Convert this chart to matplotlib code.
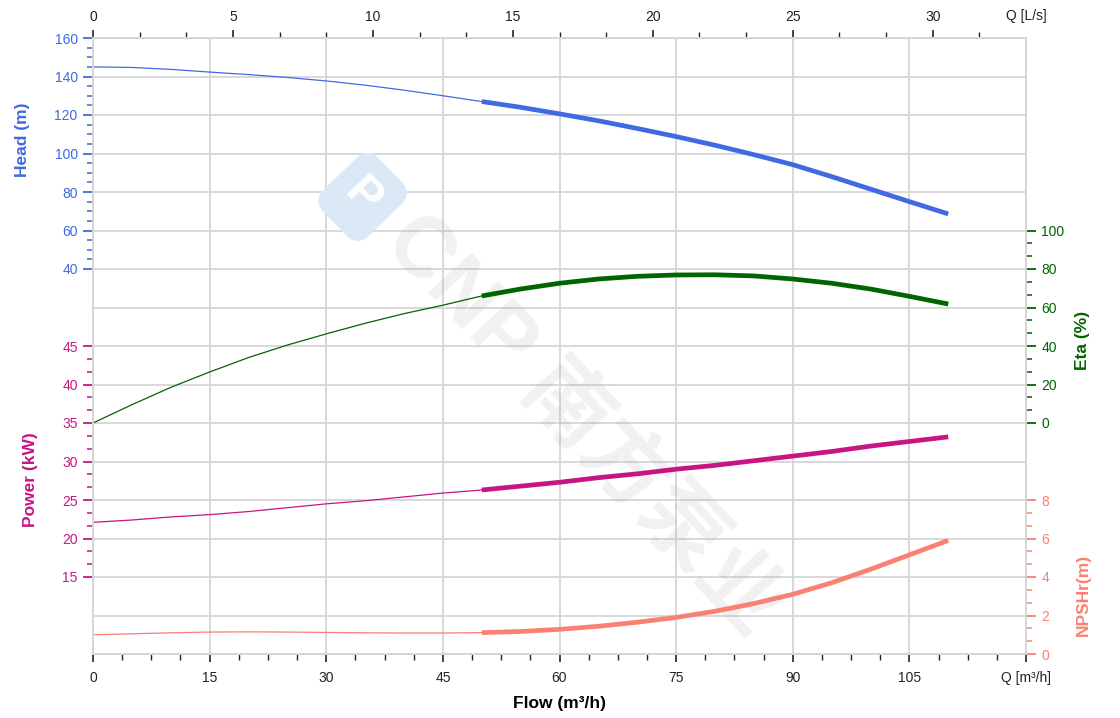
import numpy as np
import matplotlib.pyplot as plt
from matplotlib.ticker import FixedLocator, NullFormatter

plt.rcParams['font.family'] = ['Liberation Sans', 'Noto Sans CJK SC', 'DejaVu Sans']

# pump curve data (flow in m3/h)
flow = [0, 5, 10, 15, 20, 25, 30, 35, 40, 45, 50, 55,
        60, 65, 70, 75, 80, 85, 90, 95, 100, 105, 110]
head = [145.0, 144.7, 143.7, 142.3, 141.0, 139.5, 137.7, 135.5, 132.9, 130.0, 127.0, 124.0,
        120.6, 117.0, 113.0, 108.8, 104.3, 99.4, 94.2, 88.0, 81.5, 75.0, 68.6]
eta = [0.0, 9.5, 18.5, 26.5, 34.0, 40.5, 46.3, 51.8, 56.8, 61.2, 66.0, 69.6,
       72.6, 74.8, 76.2, 76.9, 77.0, 76.4, 74.8, 72.6, 69.6, 65.8, 61.8]
power = [22.1, 22.4, 22.8, 23.1, 23.5, 24.0, 24.5, 24.9, 25.4, 25.9, 26.3, 26.8,
         27.3, 27.9, 28.4, 29.0, 29.5, 30.1, 30.7, 31.3, 32.0, 32.6, 33.2]
npsh = [1.00, 1.05, 1.10, 1.14, 1.15, 1.14, 1.12, 1.10, 1.09, 1.09, 1.11, 1.17,
        1.28, 1.44, 1.65, 1.90, 2.22, 2.62, 3.10, 3.70, 4.40, 5.15, 5.90]
duty_start = 50  # thick line from here on

flow_ticks = [0, 15, 30, 45, 60, 75, 90, 105, 120]
flow_labels = ['0', '15', '30', '45', '60', '75', '90', '105', 'Q [m³/h]']
ls_ticks = [0, 5, 10, 15, 20, 25, 30]
head_ticks = [40, 60, 80, 100, 120, 140, 160]
eta_ticks = [0, 20, 40, 60, 80, 100]
power_ticks = [15, 20, 25, 30, 35, 40, 45]
npsh_ticks = [0, 2, 4, 6, 8]

c_head = '#4169e1'
c_eta = '#006400'
c_power = '#c71585'
c_npsh = '#fa8072'
c_grid = '#d6d6d6'

fig = plt.figure(figsize=(11.2, 7.18), dpi=100)
ax = fig.add_axes([93/1120, 64/718, 933/1120, 616/718])

flow = np.array(flow)
thin = flow <= duty_start
thick = flow >= duty_start

def setup(a, color, lim, ticks, minor, side):
    a.set_ylim(*lim)
    a.set_xlim(0, 120)
    a.yaxis.set_major_locator(FixedLocator(ticks))
    a.yaxis.set_minor_locator(FixedLocator(minor))
    a.yaxis.set_minor_formatter(NullFormatter())
    a.yaxis.set_ticks_position(side)
    a.tick_params(axis='y', which='major', colors=color, length=7, width=1.3,
                  labelsize=10, pad=4)
    a.tick_params(axis='y', which='minor', colors=color, length=4, width=1.1)
    for s in a.spines.values():
        s.set_color(c_grid)
        s.set_linewidth(1.3)

def draw(a, y, color):
    y = np.array(y)
    a.plot(flow[thin], y[thin], color=color, lw=0.9)
    a.plot(flow[thick], y[thick], color=color, lw=3.4, solid_capstyle='butt')

# head axis (main)
setup(ax, c_head, (-160, 160), head_ticks, np.arange(40, 161, 5), 'left')
ax.hlines(np.arange(-160, 161, 20), 0, 120, color=c_grid, lw=1.3, zorder=0)
ax.set_xticks(flow_ticks)
ax.set_xticklabels(flow_labels)
ax.xaxis.set_minor_locator(FixedLocator(np.arange(0, 120.1, 3.75)))
ax.tick_params(axis='x', which='major', length=6, width=1.2, labelsize=10, pad=6,
               colors='#222222')
ax.tick_params(axis='x', which='minor', length=4, width=1.0, colors='#222222')
ax.grid(axis='x', color=c_grid, lw=1.3, zorder=0)
ax.set_axisbelow(True)
ax.set_xlabel('Flow (m³/h)', fontsize=12.5, fontweight='bold', labelpad=8)

top = ax.secondary_xaxis('top', functions=(lambda q: q / 3.6, lambda l: l * 3.6))
top.set_xticks(ls_ticks)
top.xaxis.set_minor_locator(FixedLocator(np.arange(0, 32, 5 / 3)))
top.tick_params(axis='x', which='major', length=6, width=1.2, labelsize=10, pad=4,
                colors='#222222')
top.tick_params(axis='x', which='minor', length=4, width=1.0, colors='#222222')
top.spines['top'].set_color(c_grid)
ax.text(1.0, 1.035, 'Q [L/s]', transform=ax.transAxes, ha='center', va='center',
        fontsize=10, color='#222222')

# watermark
ax.text(0.524, 0.37, 'CNP 南方泵业', transform=ax.transAxes, rotation=-47,
        ha='center', va='center', fontsize=61, fontweight='bold',
        color='#9a9a9a', alpha=0.14, zorder=1)
ax.text(0.289, 0.742, 'P', transform=ax.transAxes, rotation=-46,
        ha='center', va='center', fontsize=34, fontweight='bold', color='white',
        bbox=dict(boxstyle='round,pad=0.35', fc='#dbe8f6', ec='none'), zorder=1)

draw(ax, head, c_head)

ax_p = ax.twinx()
setup(ax_p, c_power, (5, 85), power_ticks, np.arange(15, 45.1, 5 / 3), 'left')
draw(ax_p, power, c_power)

ax_e = ax.twinx()
setup(ax_e, c_eta, (-120, 200), eta_ticks, np.arange(0, 100.1, 20 / 3), 'right')
draw(ax_e, eta, c_eta)

ax_n = ax.twinx()
setup(ax_n, c_npsh, (0, 32), npsh_ticks, np.arange(0, 8.1, 2 / 3), 'right')
draw(ax_n, npsh, c_npsh)

# axis titles
fig.text(23/1120, 1 - 140/718, 'Head (m)', rotation=90, ha='center', va='center',
         fontsize=12.5, fontweight='bold', color=c_head)
fig.text(30/1120, 1 - 480/718, 'Power (kW)', rotation=90, ha='center', va='center',
         fontsize=12.5, fontweight='bold', color=c_power)
fig.text(1083/1120, 1 - 340/718, 'Eta (%)', rotation=90, ha='center', va='center',
         fontsize=12.5, fontweight='bold', color=c_eta)
fig.text(1083/1120, 1 - 595/718, 'NPSHr(m)', rotation=90, ha='center', va='center',
         fontsize=12.5, fontweight='bold', color=c_npsh)

fig.savefig('out.png', dpi=100)
